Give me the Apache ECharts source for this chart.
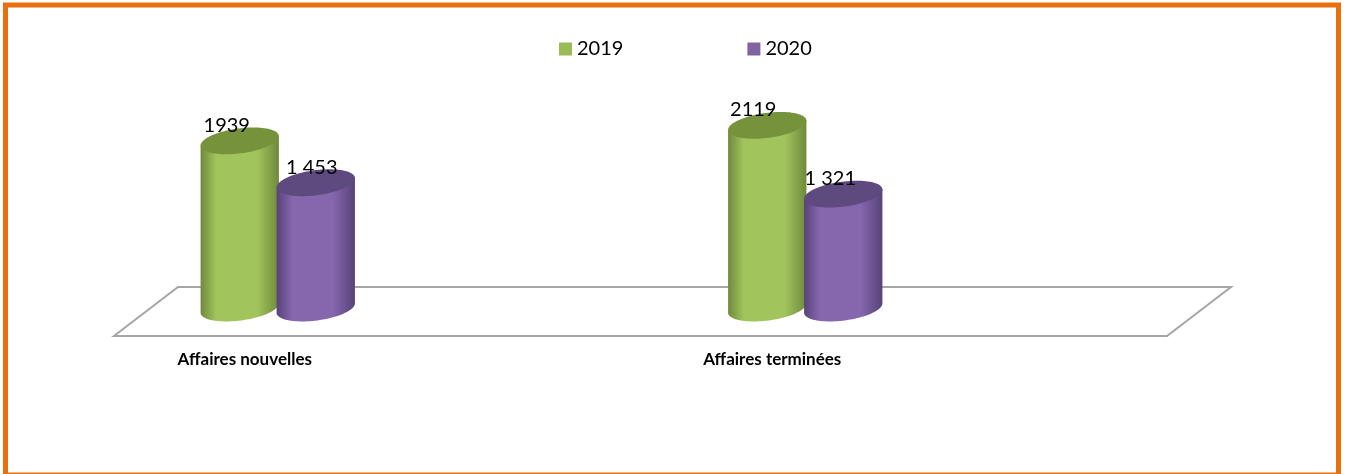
<!DOCTYPE html>
<html style="height: 100%">
<head>
    <meta charset="utf-8">
    <title>Affaires</title>
    <script src="https://cdn.jsdelivr.net/npm/echarts/dist/echarts.min.js"></script>
</head>
<body style="height: 100%; margin: 0; background: #fff">
    <div id="main" style="width: 1345px; height: 474px"></div>
    <script type="text/javascript">
        var categories = ['Affaires nouvelles', 'Affaires terminées'];
        var values2019 = [1939, 2119];
        var values2020 = [1453, 1321];
        var labels2019 = ['1939', '2119'];
        var labels2020 = ['1 453', '1 321'];

        var font = 'Lato, "Open Sans", sans-serif';
        var RX = 39.5, RY = 12.5, TILT = -7.5 * Math.PI / 180;

        // point on the tilted ellipse
        function ell(cx, cy, t) {
            var a = RX * Math.cos(t), b = RY * Math.sin(t);
            return [
                cx + a * Math.cos(TILT) - b * Math.sin(TILT),
                cy + a * Math.sin(TILT) + b * Math.cos(TILT)
            ];
        }

        function cylinder(offset, edge, mid, lid, labels, labelDx) {
            return function (params, api) {
                var i = api.value(0);
                var top = api.coord([i, api.value(1)]);
                var base = api.coord([i, 0]);
                var cx = top[0] + offset;
                var pts = [], lidPts = [], t;
                // body: top rim right to left along the back, then front of the base
                pts.push(ell(cx, top[1], 0));
                pts.push(ell(cx, top[1], Math.PI));
                for (t = 0; t <= 48; t++) {
                    pts.push(ell(cx, base[1], Math.PI - t * Math.PI / 48));
                }
                for (t = 0; t < 96; t++) {
                    lidPts.push(ell(cx, top[1], t * Math.PI / 48));
                }
                return {
                    type: 'group',
                    children: [{
                        type: 'polygon',
                        shape: { points: pts },
                        style: {
                            fill: new echarts.graphic.LinearGradient(0, 0, 1, 0, [
                                { offset: 0, color: edge },
                                { offset: 0.2, color: mid },
                                { offset: 0.72, color: mid },
                                { offset: 1, color: edge }
                            ])
                        }
                    }, {
                        type: 'polygon',
                        shape: { points: lidPts },
                        style: { fill: lid }
                    }, {
                        type: 'text',
                        z2: 100,
                        style: {
                            text: labels[i],
                            x: cx + labelDx[i],
                            y: top[1] - 15.5,
                            align: 'center',
                            verticalAlign: 'middle',
                            font: '20px ' + font,
                            fill: '#000'
                        }
                    }]
                };
            };
        }

        function rows(values) {
            return values.map(function (v, i) { return [i, v]; });
        }

        var myChart = echarts.init(document.getElementById('main'), null, { renderer: 'canvas' });

        var option = {
            animation: false,
            backgroundColor: '#fff',
            legend: {
                left: 554,
                top: 34,
                icon: 'rect',
                itemWidth: 13,
                itemHeight: 13,
                itemGap: 124,
                textStyle: { fontFamily: font, fontSize: 20, color: '#000' },
                data: ['2019', '2020']
            },
            grid: { left: 14, right: 276, top: 49.4, height: 258.6 },
            xAxis: {
                type: 'category',
                data: categories,
                axisLine: { show: false },
                axisTick: { show: false },
                axisLabel: {
                    margin: 43,
                    padding: [0, 66, 0, 0],
                    fontFamily: font,
                    fontSize: 17,
                    fontWeight: 'bold',
                    color: '#000'
                }
            },
            yAxis: { type: 'value', min: 0, max: 3000, show: false },
            graphic: [
                {
                    type: 'polygon',
                    z: 0,
                    shape: { points: [[114, 336], [1167, 336], [1231, 287], [178, 287]] },
                    style: { fill: '#fff', stroke: '#a6a6a6', lineWidth: 2 }
                },
                {
                    type: 'rect',
                    z: 0,
                    shape: { x: 5.5, y: 5, width: 1333, height: 470 },
                    style: { fill: 'none', stroke: '#e8700f', lineWidth: 5 }
                }
            ],
            series: [
                {
                    name: '2019',
                    type: 'custom',
                    clip: false,
                    itemStyle: { color: '#9bbb59' },
                    data: rows(values2019),
                    z: 3,
                    renderItem: cylinder(-38, '#6f8a3c', '#a2c45c', '#76933c', labels2019, [-13, -14])
                },
                {
                    name: '2020',
                    type: 'custom',
                    clip: false,
                    itemStyle: { color: '#8064a2' },
                    data: rows(values2020),
                    z: 4,
                    renderItem: cylinder(38, '#57437a', '#8666ad', '#5f4a80', labels2020, [-4, -13])
                }
            ]
        };

        myChart.setOption(option);
    </script>
</body>
</html>
